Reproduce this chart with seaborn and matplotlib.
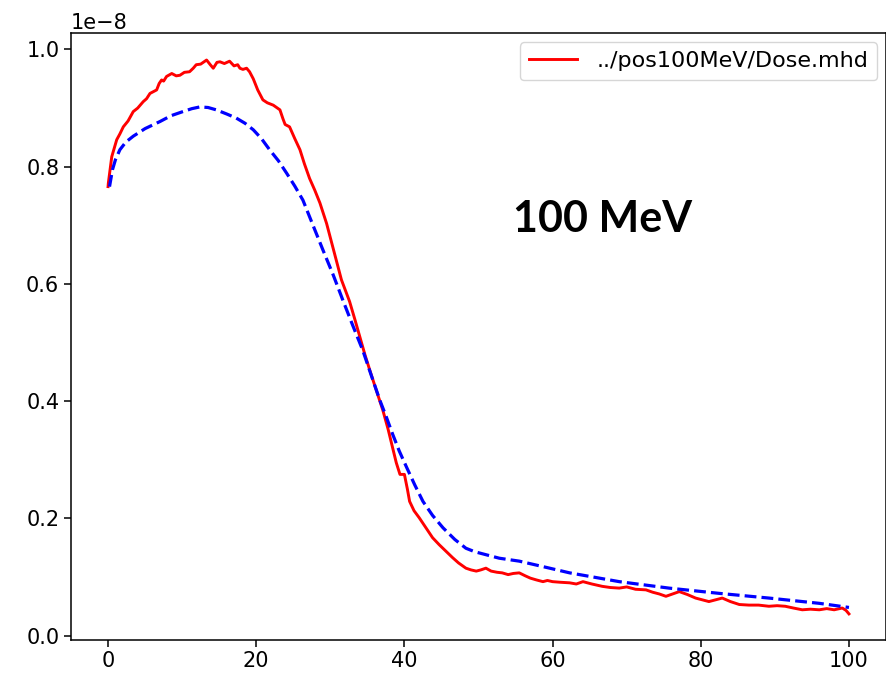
import matplotlib
matplotlib.use("Agg")
import matplotlib.pyplot as plt
import seaborn as sns
import numpy as np

# Red (solid) curve: ../pos100MeV/Dose.mhd, values in units of 1e-8
red_x = [0, 0.04, 0.5, 1.17, 1.6, 2.06, 2.7, 3.4, 4.0, 4.75, 5.2, 5.66, 6.1, 6.56, 6.9,
         7.23, 7.5, 7.9, 8.6, 9.2, 9.7, 10.3, 11.0, 11.5, 11.9, 12.5, 13.3, 13.8, 14.2,
         14.7, 15.1, 15.7, 16.4, 17.0, 17.5, 17.8, 18.2, 18.7, 19.1, 19.6, 20.2, 20.9,
         21.5, 22.3, 23.2, 23.6, 23.9, 24.5, 25.2, 25.9, 26.5, 27.2, 27.9, 28.6, 29.5,
         30.4, 31.0, 31.5, 32.0, 32.6, 33.3, 34, 34.7, 35.5, 36.3, 37.1, 37.8, 38.4,
         38.9, 39.4, 40.0, 40.4, 40.7, 41.3, 42, 42.8, 43.8, 44.7, 45.6, 46.5, 47.3,
         48.3, 49, 49.7, 50.3, 51, 51.7, 52.5, 53.2, 54, 54.7, 55.5, 56.3, 57, 57.8,
         58.7, 59.3, 60, 61, 62.3, 63.2, 64.1, 65.3, 66.7, 67.8, 69, 70, 71.2, 72.6,
         73.5, 74.4, 75.3, 76.2, 77.1, 78.2, 79.3, 80.2, 81.1, 82, 82.9, 84, 85.2,
         86.5, 87.8, 89.2, 90.3, 91.4, 92.5, 93.7, 94.8, 96, 97, 98, 99.1, 99.6, 100]
red_y = [0.766, 0.772, 0.817, 0.846, 0.856, 0.868, 0.878, 0.894, 0.900, 0.911, 0.916,
         0.925, 0.928, 0.931, 0.942, 0.948, 0.946, 0.954, 0.959, 0.955, 0.956, 0.961,
         0.962, 0.968, 0.974, 0.975, 0.982, 0.974, 0.968, 0.978, 0.979, 0.976, 0.980,
         0.972, 0.974, 0.968, 0.966, 0.968, 0.962, 0.950, 0.931, 0.914, 0.909, 0.905,
         0.897, 0.882, 0.872, 0.868, 0.848, 0.829, 0.805, 0.780, 0.760, 0.738, 0.703,
         0.660, 0.632, 0.607, 0.590, 0.570, 0.540, 0.509, 0.478, 0.446, 0.415, 0.384,
         0.352, 0.321, 0.295, 0.275, 0.275, 0.250, 0.229, 0.213, 0.201, 0.186, 0.167,
         0.155, 0.144, 0.133, 0.124, 0.115, 0.112, 0.110, 0.112, 0.115, 0.110, 0.108,
         0.107, 0.104, 0.106, 0.107, 0.102, 0.098, 0.095, 0.092, 0.094, 0.092, 0.091,
         0.090, 0.088, 0.092, 0.088, 0.084, 0.082, 0.081, 0.083, 0.079, 0.078, 0.074,
         0.071, 0.067, 0.071, 0.075, 0.070, 0.064, 0.061, 0.058, 0.061, 0.064, 0.058,
         0.053, 0.052, 0.052, 0.050, 0.051, 0.050, 0.047, 0.044, 0.045, 0.044, 0.046,
         0.044, 0.047, 0.043, 0.037]

# Blue (dashed) curve, values in units of 1e-8
blue_x = [0.2, 0.6, 1.0, 1.6, 2.4, 3.4, 5, 7, 8.5, 10.1, 11.3, 12.4, 13.5, 14.6, 16,
          17.3, 18.5, 19.6, 20.7, 21.8, 23, 24.1, 25.2, 26.3, 27.6, 29, 30.4, 31.7,
          33, 34.4, 35.5, 36.7, 37.5, 38.4, 39.3, 40.3, 41.4, 42.5, 43.8, 45.2, 46.8,
          48.3, 49.5, 52.8, 55.5, 59.6, 62.3, 69, 75.7, 82.5, 89.2, 96, 100]
blue_y = [0.766, 0.795, 0.812, 0.829, 0.842, 0.852, 0.865, 0.877, 0.887, 0.894, 0.899,
          0.902, 0.901, 0.897, 0.890, 0.883, 0.874, 0.863, 0.848, 0.829, 0.810, 0.789,
          0.767, 0.743, 0.702, 0.658, 0.615, 0.572, 0.530, 0.486, 0.445, 0.401, 0.375,
          0.344, 0.315, 0.287, 0.257, 0.229, 0.205, 0.184, 0.164, 0.149, 0.143, 0.132,
          0.127, 0.115, 0.107, 0.092, 0.081, 0.072, 0.064, 0.055, 0.048]

red_label = "../pos100MeV/Dose.mhd"
annotation = "100 MeV"
scale = 1e-8

plt.rcParams["font.size"] = 15
plt.rcParams["font.family"] = ["DejaVu Sans"]

fig = plt.figure(figsize=(8.87, 6.78), dpi=100)
ax = fig.add_axes([71 / 887, 1 - 639.5 / 678, (886 - 71) / 887, (639.5 - 33.3) / 678])

sns.lineplot(x=np.array(red_x), y=np.array(red_y) * scale, ax=ax, color="#ff0000",
             linewidth=2.1, label=red_label, legend=False)
sns.lineplot(x=np.array(blue_x), y=np.array(blue_y) * scale, ax=ax, color="#0000ff",
             linewidth=2.3, legend=False, linestyle=(0, (3.7, 1.6)))

ax.set_xlim(-5, 105)
ax.set_ylim(-0.0067e-8, 1.0276e-8)
ax.set_xticks([0, 20, 40, 60, 80, 100])
ax.set_yticks(np.array([0.0, 0.2, 0.4, 0.6, 0.8, 1.0]) * scale)
ax.tick_params(axis="both", length=4.9, width=1.1, labelsize=15)
for s in ax.spines.values():
    s.set_linewidth(1.1)
ax.set_xlabel("")
ax.set_ylabel("")
ax.yaxis.get_offset_text().set_fontsize(15)

handles, labels = ax.get_legend_handles_labels()
ax.legend(handles[:1], labels[:1], loc="upper right", fontsize=16,
          handlelength=2.2, handletextpad=0.85, borderpad=0.4, borderaxespad=0.4)

fig.text(513 / 887, 1 - 232 / 678, annotation, fontsize=31, fontweight="bold",
         family=["Lato", "DejaVu Sans"], va="baseline", ha="left")

fig.savefig("out.png", dpi=100)
